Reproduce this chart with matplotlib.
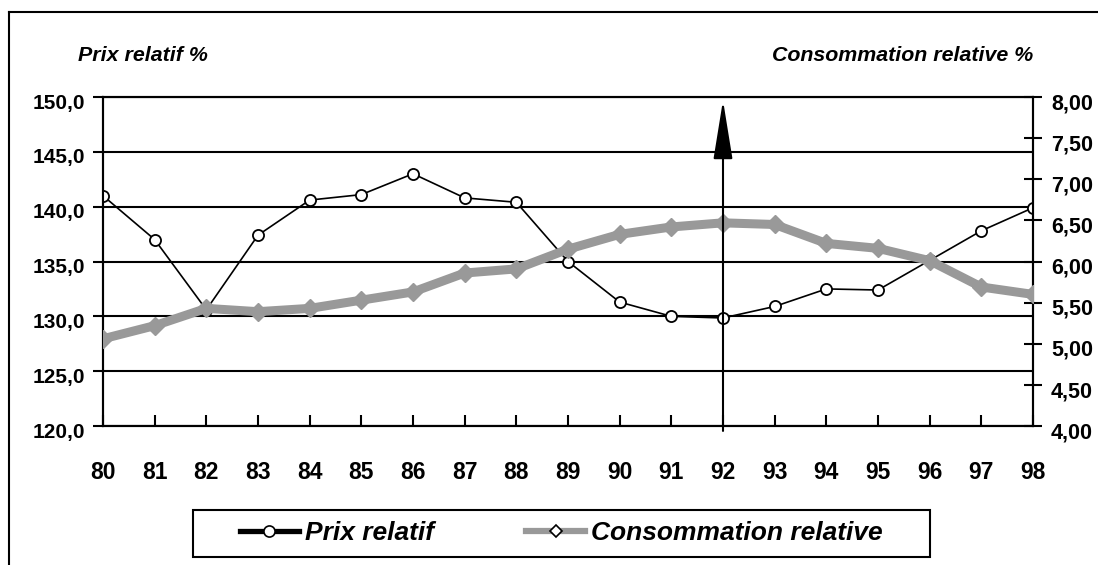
import matplotlib

matplotlib.use("Agg")
import matplotlib.pyplot as plt
import matplotlib.transforms as mtransforms
from matplotlib.lines import Line2D
from matplotlib.patches import Rectangle

plt.rcParams.update({
    "font.family": ["Liberation Sans", "DejaVu Sans"],
    "font.weight": "bold",
})

# ---- data ----
years = [80, 81, 82, 83, 84, 85, 86, 87, 88, 89,
         90, 91, 92, 93, 94, 95, 96, 97, 98]
prix = [141.0, 137.0, 130.6, 137.4, 140.6, 141.1, 143.0, 140.8, 140.4, 135.0,
        131.3, 130.0, 129.85, 130.9, 132.5, 132.4, 135.1, 137.8, 139.9]
conso = [5.06, 5.22, 5.43, 5.39, 5.43, 5.53, 5.63, 5.86, 5.91, 6.15,
         6.33, 6.42, 6.47, 6.45, 6.22, 6.16, 6.01, 5.69, 5.60]

left_ticks = [120, 125, 130, 135, 140, 145, 150]
left_labels = ["120,0", "125,0", "130,0", "135,0", "140,0", "145,0", "150,0"]
right_ticks = [4.0, 4.5, 5.0, 5.5, 6.0, 6.5, 7.0, 7.5, 8.0]
right_labels = ["4,00", "4,50", "5,00", "5,50", "6,00", "6,50", "7,00", "7,50", "8,00"]
arrow_year = 92

INK = "black"
GREY = "#999999"
W, H = 1098, 565

fig = plt.figure(figsize=(W / 100, H / 100), dpi=100)
ax = fig.add_axes([103 / W, 1 - 426 / H, 930 / W, 329 / H])
ax2 = ax.twinx()

ax.set_xlim(years[0], years[-1])
ax.set_ylim(left_ticks[0], left_ticks[-1])
ax2.set_ylim(right_ticks[0], right_ticks[-1])

ax.set_xticks(years)
ax.set_xticklabels([str(y) for y in years])
ax.set_yticks(left_ticks)
ax.set_yticklabels(left_labels)
ax2.set_yticks(right_ticks)
ax2.set_yticklabels(right_labels)

ax.yaxis.grid(True, color=INK, lw=1.5)
for a in (ax, ax2):
    for s in a.spines.values():
        s.set_linewidth(1.5)
        s.set_color(INK)

ax.tick_params(axis="x", direction="in", length=8, width=1.5, pad=25,
               labelsize=16.5, top=False)
ax.tick_params(axis="y", direction="out", length=7, width=1.5, pad=6,
               labelsize=15)
ax2.tick_params(axis="y", direction="inout", length=13, width=1.5, pad=6.5,
                labelsize=15.5)

# labels sit a few pixels below their ticks in the original
shift = mtransforms.ScaledTranslation(0, -3 / 72, fig.dpi_scale_trans)
for lab in ax.get_yticklabels() + ax2.get_yticklabels():
    lab.set_transform(lab.get_transform() + shift)

ax.plot(years, prix, color=INK, lw=1.2, marker="o", ms=8,
        mfc="white", mec=INK, mew=1.3, zorder=3)
ax2.plot(years, conso, color=GREY, lw=6.5, marker="D", ms=9.5,
         mfc=GREY, mec=GREY, zorder=3)

# vertical arrow marking 1992
ax2.annotate("", xy=(arrow_year, 7.96), xytext=(arrow_year, 3.94),
             xycoords="data", annotation_clip=False,
             arrowprops=dict(arrowstyle="-|>,head_length=3.7,head_width=0.6",
                             mutation_scale=10, color=INK, lw=1.5,
                             shrinkA=0, shrinkB=0), zorder=5)

tfont = dict(fontsize=15.4, fontweight="bold", style="italic")
fig.text(78 / W, 1 - 55.5 / H, "Prix relatif %", ha="left", va="center", **tfont)
fig.text(1033 / W, 1 - 55.5 / H, "Consommation relative %", ha="right",
         va="center", **tfont)

# outer frame (only left and top edges fall inside the picture)
fig.add_artist(Line2D([9 / W, 9 / W], [0, 1 - 12 / H], color=INK, lw=1.5))
fig.add_artist(Line2D([9 / W, 1], [1 - 12 / H, 1 - 12 / H], color=INK, lw=1.5))

# legend
h1 = Line2D([], [], color=INK, lw=3.8, marker="o", ms=8, mfc="white",
            mec=INK, mew=1.2)
h2 = Line2D([], [], color=GREY, lw=4.5, marker="D", ms=6.5, mfc="white",
            mec=INK, mew=1.2)
fig.add_artist(Rectangle((193 / W, 8 / H), 737 / W, 47 / H,
                         transform=fig.transFigure, fill=False, ec=INK, lw=1.5))
fig.legend([h1, h2], ["Prix relatif", "Consommation relative"], ncol=2,
           loc="center left", bbox_to_anchor=(240 / W, 1 - 533 / H),
           frameon=False, borderpad=0, borderaxespad=0, handlelength=2.23,
           handletextpad=0.23, columnspacing=3.5,
           prop=dict(family="Liberation Sans", weight="bold", style="italic",
                     size=19))

fig.savefig("out.png", dpi=100)
